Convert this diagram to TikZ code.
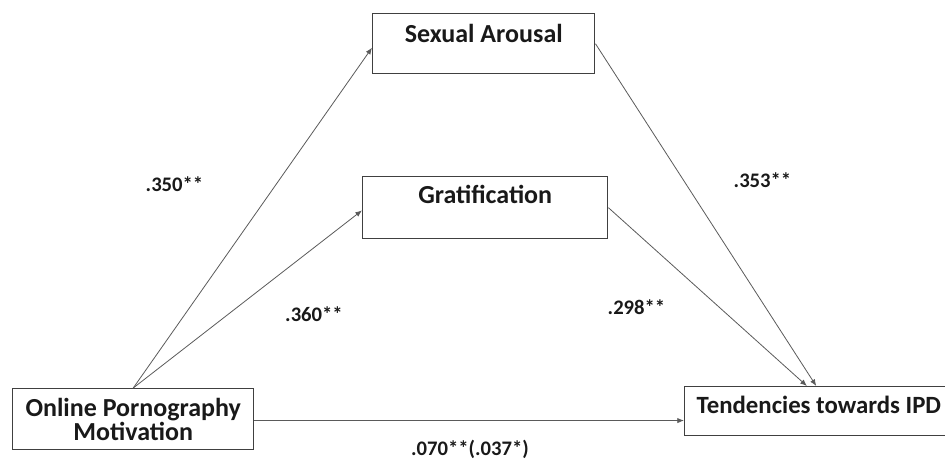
\documentclass[tikz,border=0pt]{standalone}
\usepackage{fontspec}
\setmainfont{Carlito}
\usetikzlibrary{arrows.meta}
\definecolor{boxgray}{HTML}{404040}
\definecolor{linegray}{HTML}{5A5A5A}

\begin{document}
\begin{tikzpicture}[x=0.75pt,y=-0.75pt,
	box/.style={draw=boxgray,line width=1.1pt,inner ysep=0pt,font=\fontsize{19.5}{18}\selectfont\bfseries,text=black!90},
	coef/.style={font=\fontsize{15.5}{18}\selectfont\bfseries,text=black!90},
	path/.style={draw=linegray,line width=0.6pt,-{Latex[length=5pt,width=4pt]}}]
	\useasboundingbox (0,0) rectangle (945,460);
	% variables
	\node[box,anchor=north west,minimum width=166.5pt,text height=21.75pt,text depth=23.25pt] (arousal) at (372,13) {Sexual Arousal};
	\node[box,anchor=north west,minimum width=183.75pt,text height=20.25pt,text depth=26.25pt] (grat) at (362,176) {Gratification};
	\node[box,anchor=north west,minimum width=180.75pt,minimum height=45.75pt,align=center] (motiv) at (12,388) {Online Pornography\\Motivation};
	\node[box,anchor=north west,inner xsep=9pt,text height=20.25pt,text depth=16.5pt,font=\fontsize{18.6}{18}\selectfont\bfseries] (ipd) at (684,386) {Tendencies towards IPD};
	% paths
	\draw[path] (motiv.north) -- ([yshift=-3pt]arousal.west);
	\draw[path] (motiv.north) -- ([yshift=-2pt]grat.west);
	\draw[path] (arousal.east) -- ([xshift=-2pt]ipd.north);
	\draw[path] (grat.east) -- ([xshift=-9pt]ipd.north);
	\draw[path] ([yshift=-1pt]motiv.east) -- ([yshift=-1pt]motiv.east -| ipd.west);
	% coefficients
	\node[coef] (c1) at (174.5,184.5) {.350**};
	\node[coef] (c2) at (314,314.5) {.360**};
	\node[coef] (c3) at (762.5,180) {.353**};
	\node[coef] (c4) at (636.5,307.5) {.298**};
	\node[coef] (c5) at (470,449) {.070**(.037*)};
\end{tikzpicture}
\end{document}
